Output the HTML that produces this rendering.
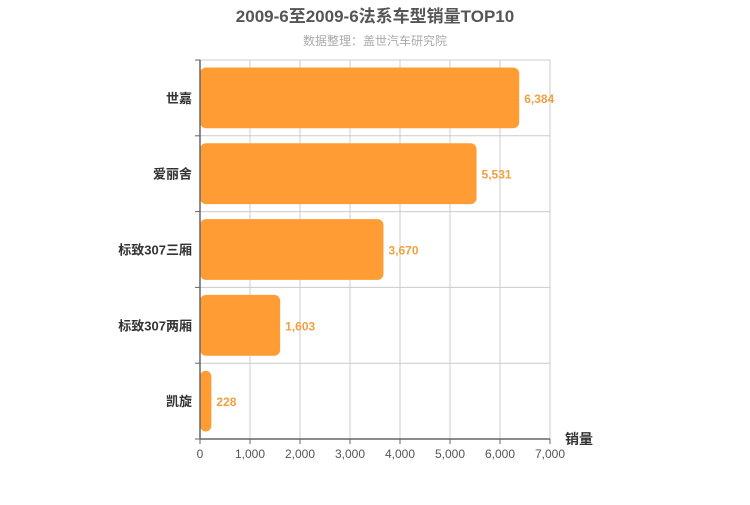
<!DOCTYPE html>
<html><head><meta charset="utf-8"><style>
body{margin:0;background:#fff;font-family:"Liberation Sans","Noto Sans CJK SC",sans-serif}
svg text{font-family:"Liberation Sans","Noto Sans CJK SC",sans-serif}
</style></head><body>
<svg id="c" width="750" height="500" xmlns="http://www.w3.org/2000/svg">
<text x="375" y="22" text-anchor="middle" font-size="17" font-weight="bold" fill="#555">2009-6至2009-6法系车型销量TOP10</text>
<text x="375" y="45" text-anchor="middle" font-size="12" fill="#aaa">数据整理：盖世汽车研究院</text>
<g id="grid"></g><g id="bars"></g><g id="axes"></g>
<text x="565" y="444" font-size="14" font-weight="bold" fill="#333">销量</text>
</svg>
<script>
const categories=["世嘉","爱丽舍","标致307三厢","标致307两厢","凯旋"];
const values=[6384,5531,3670,1603,228];
const ticks=[0,1000,2000,3000,4000,5000,6000,7000];
const X0=200,X1=550,Y0=60,Y1=439,MAX=7000;
const ns="http://www.w3.org/2000/svg";
const x=v=>X0+(X1-X0)*v/MAX;
const band=(Y1-Y0)/categories.length;
function mk(t,a,p,txt){const e=document.createElementNS(ns,t);for(const k in a)e.setAttribute(k,a[k]);if(txt!==undefined)e.textContent=txt;p.appendChild(e);return e;}
const g=document.getElementById('grid'),b=document.getElementById('bars'),ax=document.getElementById('axes');
ticks.forEach(t=>{
 if(t>0){const l=mk('line',{x1:x(t),x2:x(t),y1:Y0,y2:Y1,stroke:'#ccc'},g);
 
 }
 const tk=mk('line',{x1:x(t),x2:x(t),y1:Y1,y2:Y1+5,stroke:'#666'},ax);
 
 
 const tl=mk('text',{x:x(t),y:Y1+19,'text-anchor':'middle','font-size':12,fill:'#555'},ax,t.toLocaleString('en-US'));
 
 
});
for(let i=0;i<=categories.length;i++){
 const y=Y0+band*i;
 if(i>0&&i<categories.length){const l=mk('line',{x1:X0,x2:X1,y1:y,y2:y,stroke:'#ccc'},g);
 
 }
 const tk=mk('line',{x1:X0-5,x2:X0,y1:y,y2:y,stroke:'#666'},ax);
 
 
}
const topBorder=mk('line',{x1:X0,x2:X1,y1:Y0,y2:Y0,stroke:'#ccc'},g);


const rb=mk('line',{x1:X1,x2:X1,y1:Y0,y2:Y1,stroke:'#ccc'},g);


categories.forEach((c,i)=>{
 const yc=Y0+band*(i+0.5),h=band-15;
 const r=mk('rect',{x:X0,y:yc-h/2,width:Math.max(x(values[i])-X0,1),height:h,rx:6,ry:6,fill:'#ff9c33'},b);
 
 
 const v=mk('text',{x:x(values[i])+5,y:yc+5,'font-size':12,'font-weight':'bold',fill:'#f0a040'},b,values[i].toLocaleString('en-US'));
 
 
 const l=mk('text',{x:X0-8,y:yc+5,'text-anchor':'end','font-size':13,'font-weight':'bold',fill:'#333'},ax,c);
 
 
});
const ya=mk('line',{x1:X0,x2:X0,y1:Y0,y2:Y1,stroke:'#666','stroke-width':1.5},ax);


const xa=mk('line',{x1:X0,x2:X1,y1:Y1,y2:Y1,stroke:'#666','stroke-width':1.5},ax);


</script>
</body></html>
